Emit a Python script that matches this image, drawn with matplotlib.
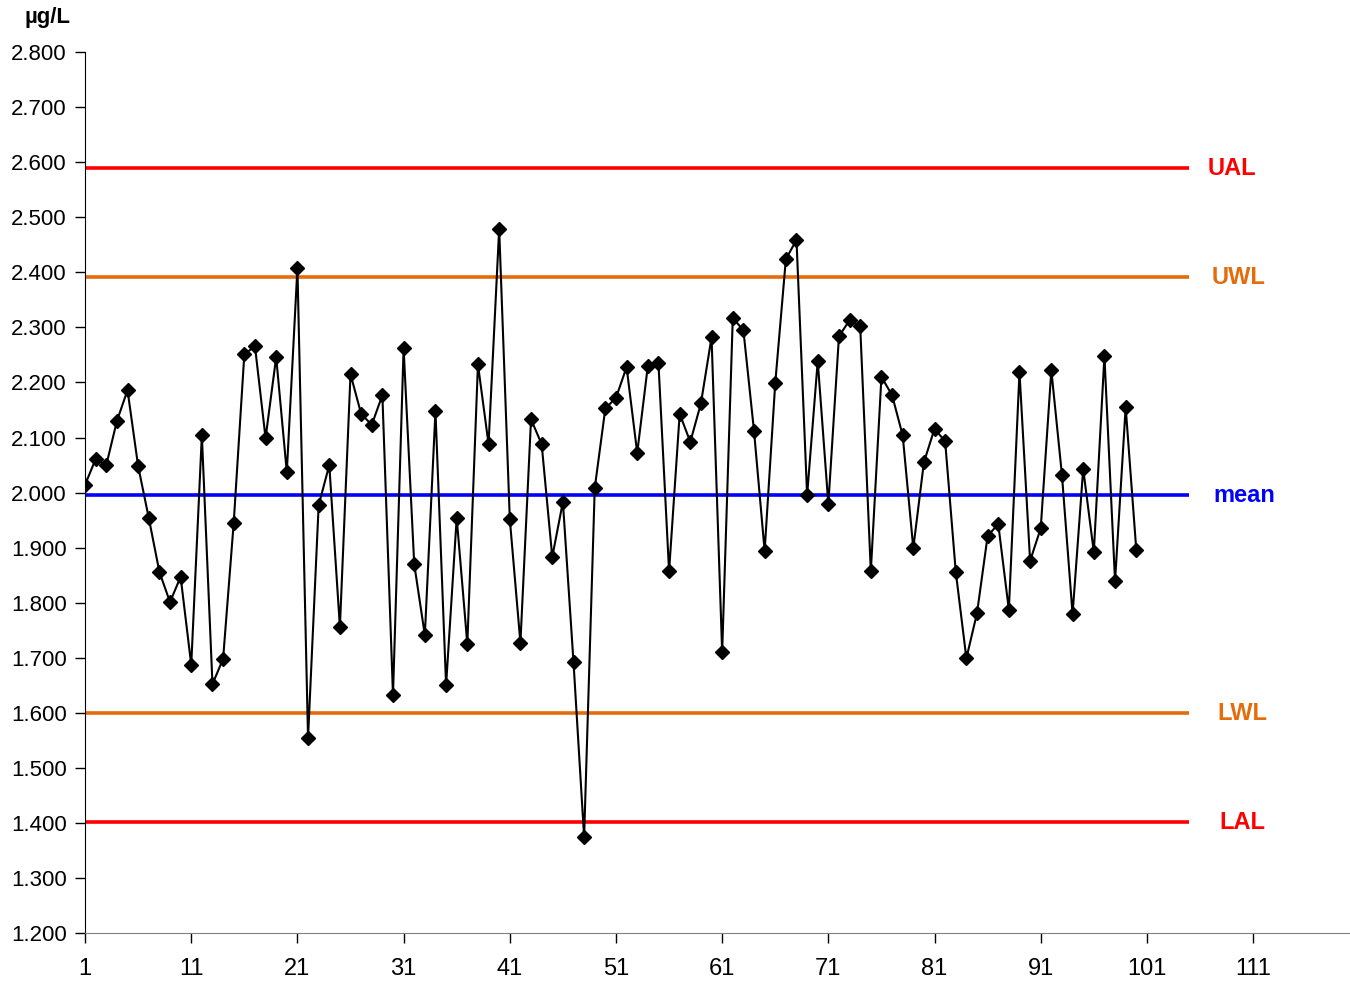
import matplotlib.pyplot as plt
import numpy as np

plt.rcParams['font.family'] = ['Liberation Sans', 'DejaVu Sans']

# measured values (ug/L), run number 1..100
values = [2.014, 2.061, 2.050, 2.130, 2.186, 2.048, 1.954, 1.856, 1.801, 1.847,
          1.687, 2.104, 1.652, 1.698, 1.945, 2.251, 2.266, 2.099, 2.246, 2.037,
          2.408, 1.554, 1.977, 2.050, 1.756, 2.215, 2.143, 2.123, 2.177, 1.632,
          2.262, 1.870, 1.741, 2.148, 1.650, 1.954, 1.725, 2.233, 2.088, 2.479,
          1.952, 1.727, 2.133, 2.088, 1.883, 1.983, 1.692, 1.374, 2.008, 2.153,
          2.172, 2.228, 2.072, 2.230, 2.235, 1.857, 2.143, 2.092, 2.162, 2.282,
          1.710, 2.317, 2.295, 2.112, 1.894, 2.199, 2.424, 2.459, 1.995, 2.239,
          1.979, 2.284, 2.313, 2.302, 1.857, 2.210, 2.177, 2.104, 1.899, 2.055,
          2.116, 2.093, 1.856, 1.699, 1.781, 1.921, 1.943, 1.787, 2.219, 1.876,
          1.935, 2.222, 2.032, 1.779, 2.043, 1.892, 2.248, 1.839, 2.155, 1.896]
runs = np.arange(1, len(values) + 1)

limit_names = ["UAL", "UWL", "mean", "LWL", "LAL"]
limit_values = [2.589, 2.391, 1.995, 1.599, 1.401]
limit_colors = ["#FF0000", "#E46C0A", "#0000FF", "#E46C0A", "#FF0000"]
label_x = [106.7, 107.1, 107.3, 107.6, 107.8]

fig = plt.figure(figsize=(13.5, 9.82), dpi=100)
ax = fig.add_axes([0.063, 0.0499, 0.936, 0.897])

for name, val, col, lx in zip(limit_names, limit_values, limit_colors, label_x):
    ax.plot([1, 105], [val, val], color=col, lw=2.6, solid_capstyle='butt', zorder=2)
    ax.text(lx, val, name, color=col, fontsize=17, fontweight='bold',
            ha='left', va='center')

ax.plot(runs, values, color='black', lw=1.5, marker='D', markersize=7,
        markerfacecolor='black', markeredgecolor='black', zorder=3)

ax.set_xlim(1, 120)
ax.set_ylim(1.2, 2.8)
ax.set_xticks(np.arange(1, 112, 10))
ax.set_yticks(np.arange(1.2, 2.81, 0.1))
ax.set_yticklabels([f"{v:.3f}" for v in np.arange(1.2, 2.81, 0.1)])
ax.tick_params(axis='both', direction='out', length=7, width=1, labelsize=16, colors='black')
ax.tick_params(axis='x', pad=11, labelsize=17)
ax.tick_params(axis='y', pad=6)
ax.spines['top'].set_visible(False)
ax.spines['right'].set_visible(False)
ax.spines['left'].set_color('black')
ax.spines['bottom'].set_color('#808080')

fig.text(47 / 1350, 1 - 18 / 982, "µg/L", ha='center', va='center',
         fontsize=16, fontweight='bold')

fig.savefig("out.png", dpi=100)
